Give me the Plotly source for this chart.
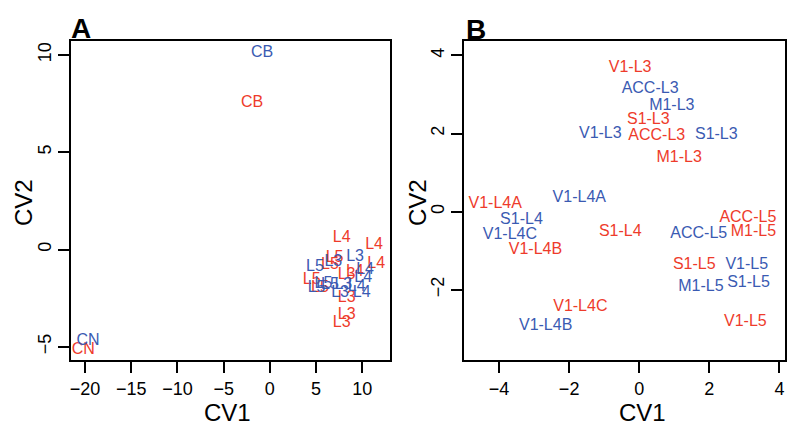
import plotly.graph_objects as go

RED = "#EE3B2B"
BLUE = "#3A5AB2"

# Panel A data
a_red_labels = ["CB", "CN",
                "L4", "L4", "L4", "L4",
                "L3", "L3", "L3", "L3",
                "L5", "L5", "L5", "L5"]
a_red_cv1 = [-1.93, -20.2,
             7.78, 11.28, 11.5, 9.2,
             8.3, 8.32, 8.32, 7.78,
             7.0, 6.5, 4.52, 5.42]
a_red_cv2 = [7.52, -5.18,
             0.58, 0.23, -0.76, -1.14,
             -1.31, -2.51, -3.37, -3.80,
             -0.45, -0.80, -1.57, -2.0]

a_blue_labels = ["CB", "CN",
                 "L3", "L3", "L3", "L3",
                 "L4", "L4", "L4", "L4",
                 "L5", "L5", "L5", "L5"]
a_blue_cv1 = [-0.85, -19.67,
              9.22, 6.87, 7.95, 7.6,
              10.3, 10.1, 9.4, 9.94,
              4.88, 6.5, 5.06, 5.8]
a_blue_cv2 = [10.09, -4.70,
              -0.37, -0.63, -1.83, -2.25,
              -1.05, -1.48, -1.91, -2.25,
              -0.88, -1.83, -2.0, -1.75]

# Panel B data
b_red_labels = ["V1-L3", "S1-L3", "ACC-L3", "M1-L3",
                "V1-L4A", "V1-L4B", "S1-L4", "V1-L4C",
                "ACC-L5", "M1-L5", "S1-L5", "V1-L5"]
b_red_cv1 = [-0.26, 0.26, 0.50, 1.14,
             -4.11, -2.96, -0.54, -1.68,
             3.10, 3.26, 1.57, 3.03]
b_red_cv2 = [3.68, 2.35, 1.93, 1.37,
             0.20, -0.99, -0.53, -2.44,
             -0.16, -0.53, -1.37, -2.83]

b_blue_labels = ["ACC-L3", "M1-L3", "V1-L3", "S1-L3",
                 "V1-L4A", "S1-L4", "V1-L4C", "V1-L4B",
                 "ACC-L5", "M1-L5", "V1-L5", "S1-L5"]
b_blue_cv1 = [0.31, 0.93, -1.11, 2.20,
              -1.71, -3.36, -3.69, -2.67,
              1.70, 1.76, 3.07, 3.12]
b_blue_cv2 = [3.13, 2.71, 1.99, 1.97,
              0.36, -0.22, -0.61, -2.92,
              -0.58, -1.93, -1.37, -1.84]

a_xticks = [-20, -15, -10, -5, 0, 5, 10]
a_yticks = [-5, 0, 5, 10]
b_xticks = [-4, -2, 0, 2, 4]
b_yticks = [-2, 0, 2, 4]

FONT = "Liberation Sans, Arial, sans-serif"
TXT = 16

fig = go.Figure()

def add_text(x, y, labels, color, xa, ya):
    fig.add_trace(go.Scatter(
        x=x, y=y, text=labels, mode="text", textposition="middle center",
        textfont=dict(family=FONT, size=TXT, color=color),
        xaxis=xa, yaxis=ya, showlegend=False, hoverinfo="skip"))

add_text(a_red_cv1, a_red_cv2, a_red_labels, RED, "x", "y")
add_text(a_blue_cv1, a_blue_cv2, a_blue_labels, BLUE, "x", "y")
add_text(b_red_cv1, b_red_cv2, b_red_labels, RED, "x2", "y2")
add_text(b_blue_cv1, b_blue_cv2, b_blue_labels, BLUE, "x2", "y2")

W, H = 800, 441
ydom = [1 - 360 / H, 1 - 41 / H]

axis_common = dict(showline=True, linecolor="black", linewidth=2, mirror=True,
                   ticks="outside", ticklen=11, tickwidth=2, tickcolor="black",
                   showgrid=False, zeroline=False,
                   tickfont=dict(family=FONT, size=18, color="black"))

fig.update_layout(
    width=W, height=H,
    margin=dict(l=0, r=0, t=0, b=0),
    paper_bgcolor="white", plot_bgcolor="white",
    xaxis=dict(domain=[71 / W, 390 / W], range=[-21.52, 13.0], anchor="y",
               tickvals=a_xticks, ticktext=["\u221220", "\u221215", "\u221210", "\u22125", "0", "5", "10"],
               **axis_common),
    yaxis=dict(domain=ydom, range=[-5.68, 10.72], anchor="x",
               tickvals=a_yticks, ticktext=["\u22125", "0", "5", "10"], tickangle=-90,
               ticklabelstandoff=0, **axis_common),
    xaxis2=dict(domain=[464 / W, 785 / W], range=[-5.0, 4.16], anchor="y2",
                tickvals=b_xticks, ticktext=["\u22124", "\u22122", "0", "2", "4"],
                **axis_common),
    yaxis2=dict(domain=ydom, range=[-3.80, 4.37], anchor="x2",
                tickvals=b_yticks, ticktext=["\u22122", "0", "2", "4"], tickangle=-90,
                ticklabelstandoff=0, **axis_common),
)

ann = [
    dict(text="<b>A</b>", x=81, y=28, size=28),
    dict(text="<b>B</b>", x=476, y=29, size=28),
    dict(text="CV1", x=227, y=412, size=24),
    dict(text="CV1", x=642, y=412, size=24),
]
for a in ann:
    fig.add_annotation(text=a["text"], x=a["x"] / W, y=1 - a["y"] / H,
                       xref="paper", yref="paper", showarrow=False,
                       xanchor="center", yanchor="middle",
                       font=dict(family=FONT, size=a["size"], color="black"))
for xx in (24, 418):
    fig.add_annotation(text="CV2", x=xx / W, y=1 - 203 / H, xref="paper", yref="paper",
                       showarrow=False, textangle=-90, xanchor="center", yanchor="middle",
                       font=dict(family=FONT, size=24, color="black"))

fig.write_html("out.html", config={"displayModeBar": False},
               post_script="document.body.style.margin='0';")
